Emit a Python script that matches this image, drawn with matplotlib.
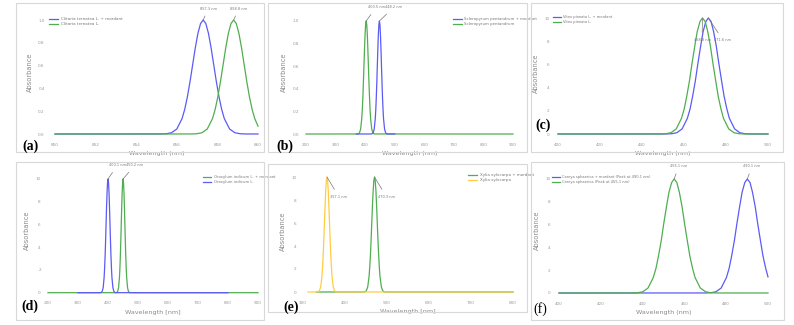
import matplotlib
matplotlib.use("Agg")
import matplotlib.pyplot as plt
from matplotlib.patches import Rectangle

W, H = 794, 325

BLUE = "#5b5bf5"
GREEN = "#4fae4f"
YELLOW = "#ffcc44"
GREY = "#8a8a8a"

# shape of one normalised absorbance peak
peak_shape = [0, 0.0003, 0.0022, 0.0111, 0.0439, 0.1353, 0.2163, 0.3247, 0.4578, 0.6065,
              0.7548, 0.8825, 0.969, 1.0, 0.969, 0.8825, 0.7548, 0.6065, 0.4578, 0.3247,
              0.2163, 0.1353, 0.0439, 0.0111, 0.0022, 0.0003, 0]
peak_shape10 = [0, 0.003, 0.022, 0.111, 0.439, 1.353, 2.163, 3.247, 4.578, 6.065,
                7.548, 8.825, 9.69, 10.0, 9.69, 8.825, 7.548, 6.065, 4.578, 3.247,
                2.163, 1.353, 0.439, 0.111, 0.022, 0.003, 0]

# (a) Clitoria ternatea
a_blue_x = [850, 855.22, 855.48, 855.74, 856.0, 856.26, 856.39, 856.52, 856.65, 856.78, 856.91,
            857.04, 857.17, 857.3, 857.43, 857.56, 857.69, 857.82, 857.95, 858.08, 858.21,
            858.34, 858.6, 858.86, 859.12, 859.38, 860]
a_blue_y = peak_shape
a_green_x = [850, 856.72, 856.98, 857.24, 857.5, 857.76, 857.89, 858.02, 858.15, 858.28, 858.41,
             858.54, 858.67, 858.8, 858.93, 859.06, 859.19, 859.32, 859.45, 859.58, 859.71,
             859.84, 860.0]
a_green_y = [0, 0.0003, 0.0022, 0.0111, 0.0439, 0.1353, 0.2163, 0.3247, 0.4578, 0.6065,
             0.7548, 0.8825, 0.969, 1.0, 0.969, 0.8825, 0.7548, 0.6065, 0.4578, 0.3247,
             0.2163, 0.1353, 0.069]

# (b) Scleropyrum pentandrum
b_blue_x = [370, 420.2, 423.7, 427.2, 430.7, 434.2, 436.0, 437.7, 439.5, 441.2, 443.0, 444.7,
            446.5, 448.2, 450.0, 451.7, 453.5, 455.2, 457.0, 458.7, 460.5, 462.2, 465.7,
            469.2, 472.7, 476.2, 500]
b_blue_y = peak_shape
b_green_x = [200, 373.5, 377.3, 381.0, 384.8, 388.5, 390.4, 392.3, 394.1, 396.0, 397.9, 399.8,
             401.6, 403.5, 405.4, 407.3, 409.1, 411.0, 412.9, 414.8, 416.6, 418.5, 422.3,
             426.0, 429.8, 433.5, 900]
b_green_y = peak_shape

# (c) Vitex pinnata
c_blue_x = [400, 451.6, 454.1, 456.6, 459.1, 461.6, 462.9, 464.1, 465.4, 466.6, 467.9, 469.1,
            470.4, 471.6, 472.9, 474.1, 475.4, 476.6, 477.9, 479.1, 480.4, 481.6, 484.1,
            486.6, 489.1, 491.6, 500]
c_blue_y = peak_shape10
c_green_x = [400, 448.8, 451.3, 453.8, 456.3, 458.8, 460.1, 461.3, 462.6, 463.8, 465.1, 466.3,
             467.6, 468.8, 470.1, 471.3, 472.6, 473.8, 475.1, 476.3, 477.6, 478.8, 481.3,
             483.8, 486.3, 488.8, 500]
c_green_y = peak_shape10

# (d) Oroxylum indicum
d_green_x = [200, 426.2, 429.2, 432.2, 435.2, 438.2, 439.7, 441.2, 442.7, 444.2, 445.7, 447.2,
             448.7, 450.2, 451.7, 453.2, 454.7, 456.2, 457.7, 459.2, 460.7, 462.2, 465.2,
             468.2, 471.2, 474.2, 900]
d_green_y = peak_shape10
d_blue_x = [300, 374.1, 377.4, 380.6, 383.9, 387.1, 388.7, 390.4, 392.0, 393.6, 395.2, 396.9,
            398.5, 400.1, 401.7, 403.4, 405.0, 406.6, 408.2, 409.9, 411.5, 413.1, 416.4,
            419.6, 422.9, 426.1, 800]
d_blue_y = peak_shape10

# (e) Xylia xylocarpa
e_green_x = [332, 444.3, 447.6, 450.8, 454.1, 457.3, 458.9, 460.6, 462.2, 463.8, 465.4, 467.1,
             468.7, 470.3, 471.9, 473.6, 475.2, 476.8, 478.4, 480.1, 481.7, 483.3, 486.6,
             489.8, 493.1, 496.3, 800]
e_green_y = peak_shape10
e_yellow_x = [312, 333.1, 336.1, 339.1, 342.1, 345.1, 346.6, 348.1, 349.6, 351.1, 352.6, 354.1,
              355.6, 357.1, 358.6, 360.1, 361.6, 363.1, 364.6, 366.1, 367.6, 369.1, 372.1,
              375.1, 378.1, 381.1, 800]
e_yellow_y = peak_shape10

# (f) Careya sphaerica
f_blue_x = [400, 470.1, 472.6, 475.1, 477.6, 480.1, 481.4, 482.6, 483.9, 485.1, 486.4, 487.6,
            488.9, 490.1, 491.4, 492.6, 493.9, 495.1, 496.4, 497.6, 498.9, 500.0]
f_blue_y = [0, 0.003, 0.022, 0.111, 0.439, 1.353, 2.163, 3.247, 4.578, 6.065, 7.548, 8.825,
            9.69, 10.0, 9.69, 8.825, 7.548, 6.065, 4.578, 3.247, 2.163, 1.41]
f_green_x = [400, 435.1, 437.6, 440.1, 442.6, 445.1, 446.4, 447.6, 448.9, 450.1, 451.4, 452.6,
             453.9, 455.1, 456.4, 457.6, 458.9, 460.1, 461.4, 462.6, 463.9, 465.1, 467.6,
             470.1, 472.6, 475.1, 500]
f_green_y = peak_shape10


def place(ax, xa, xb, pxa, pxb, ya, yb, pya, pyb, xlim, ylim):
    # map two known data points to pixel positions of the reference
    sx = (pxb - pxa) / (xb - xa)
    sy = (pya - pyb) / (yb - ya)
    left = pxa + (xlim[0] - xa) * sx
    right = pxa + (xlim[1] - xa) * sx
    bottom = pya + (ya - ylim[0]) * sy
    top = pya - (ylim[1] - ya) * sy
    ax.set_position([left / W, 1 - bottom / H, (right - left) / W, (bottom - top) / H])
    ax.set_xlim(xlim)
    ax.set_ylim(ylim)


def style(ax, xlabel, ylabel, xticks, yticks, yfmt="{:g}"):
    for s in ax.spines.values():
        s.set_visible(False)
    ax.set_xticks(xticks)
    ax.set_yticks(yticks)
    ax.set_yticklabels([yfmt.format(v) for v in yticks])
    ax.tick_params(length=0, labelsize=3.0, labelcolor="#999999", pad=3)
    ax.set_xlabel(xlabel, fontsize=4.6, color=GREY, labelpad=3)
    ax.set_ylabel(ylabel, fontsize=4.8, color=GREY, labelpad=4)


def legend(ax, x, y, size=3.0, order=None):
    h, l = ax.get_legend_handles_labels()
    if order:
        h = [h[i] for i in order]
        l = [l[i] for i in order]
    ax.legend(h, l, loc="upper left", bbox_to_anchor=(x / W, 1 - y / H),
              bbox_transform=fig.transFigure, fontsize=size, frameon=False,
              handlelength=2.2, handletextpad=0.7, labelspacing=0.3, borderaxespad=0,
              borderpad=0, labelcolor="#777777")


def note(ax, text, xy, xytext):
    ax.annotate(text, xy=xy, xytext=xytext, fontsize=2.5, color="#777777", ha="center", va="center",
                arrowprops=dict(arrowstyle="-", color="#777777", lw=0.5, shrinkA=2, shrinkB=0))


def frame(x0, y0, x1, y1):
    fig.add_artist(Rectangle((x0 / W, 1 - y1 / H), (x1 - x0) / W, (y1 - y0) / H,
                             transform=fig.transFigure, fill=False, ec="#d8d8d8", lw=0.8))


def tag(x, y, text, bold=True):
    fig.text(x / W, 1 - y / H, text, fontsize=10, family="Liberation Serif",
             fontweight="bold" if bold else "normal", ha="left", va="center")


fig = plt.figure(figsize=(W / 100, H / 100), dpi=100)
fig.patch.set_facecolor("white")

frame(16, 3, 264, 152)
frame(268, 3, 527, 152)
frame(531, 3, 783, 152)
frame(16, 162, 264, 320)
frame(268, 164, 527, 312)
frame(531, 162, 784, 320)

lw = 0.9

# (a)
ax = fig.add_axes([0, 0, 1, 1])
ax.plot(a_blue_x, a_blue_y, color=BLUE, lw=lw, label="Clitoria ternatea L. + mordant")
ax.plot(a_green_x, a_green_y, color=GREEN, lw=lw, label="Clitoria ternatea L.")
place(ax, 850, 860, 55, 258, 0, 1, 134, 20, (849.7, 860.3), (-0.04, 1.13))
style(ax, "Wavelength (nm)", "Absorbance", [850, 852, 854, 856, 858, 860],
      [0, 0.2, 0.4, 0.6, 0.8, 1.0], "{:.1f}")
legend(ax, 49, 17, 3.0)
note(ax, "857.3 nm", (857.3, 1.0), (857.55, 1.1))
note(ax, "858.8 nm", (858.8, 1.0), (859.05, 1.1))
tag(22, 146, "(a)")

# (b)
ax = fig.add_axes([0, 0, 1, 1])
ax.plot(b_green_x, b_green_y, color=GREEN, lw=lw, label="Scleropyrum pentandrum")
ax.plot(b_blue_x, b_blue_y, color=BLUE, lw=lw, label="Scleropyrum pentandrum + mordant")
place(ax, 200, 900, 306, 513, 0, 1, 134, 21, (190, 910), (-0.04, 1.13))
style(ax, "Wavelength (nm)", "Absorbance", [200, 300, 400, 500, 600, 700, 800, 900],
      [0, 0.2, 0.4, 0.6, 0.8, 1.0], "{:.1f}")
legend(ax, 453, 17, 2.8, order=[1, 0])
note(ax, "403.5 nm", (403.5, 1.0), (437, 1.12))
note(ax, "448.2 nm", (448.2, 1.0), (496, 1.12))
tag(276, 146, "(b)")

# (c)
ax = fig.add_axes([0, 0, 1, 1])
ax.plot(c_blue_x, c_blue_y, color=BLUE, lw=lw, label="Vitex pinnata L. + mordant")
ax.plot(c_green_x, c_green_y, color=GREEN, lw=lw, label="Vitex pinnata L.")
place(ax, 400, 500, 558, 768, 0, 10, 134, 18, (398, 502), (-0.4, 10.9))
style(ax, "Wavelength (nm)", "Absorbance", [400, 420, 440, 460, 480, 500], [0, 2, 4, 6, 8, 10])
legend(ax, 553, 15, 2.6)
note(ax, "468.8 nm", (468.8, 10.0), (468.6, 8.1))
note(ax, "471.6 nm", (471.6, 10.0), (478.5, 8.1))
tag(535, 125, "(c)")

# (d)
ax = fig.add_axes([0, 0, 1, 1])
ax.plot(d_green_x, d_green_y, color=GREEN, lw=lw, label="Oroxylum indicum L. + mordant")
ax.plot(d_blue_x, d_blue_y, color=BLUE, lw=lw, label="Oroxylum indicum L.")
place(ax, 200, 900, 48, 258, 0, 10, 292.7, 179, (190, 910), (-0.4, 11.4))
style(ax, "Wavelength [nm]", "Absorbance", [200, 300, 400, 500, 600, 700, 800, 900],
      [0, 2, 4, 6, 8, 10])
legend(ax, 203, 175, 2.7)
note(ax, "400.1 nm", (400.1, 10.0), (431, 11.2))
note(ax, "450.2 nm", (450.2, 10.0), (489, 11.2))
tag(21, 306, "(d)")

# (e)
ax = fig.add_axes([0, 0, 1, 1])
ax.plot(e_green_x, e_green_y, color=GREEN, lw=lw, label="Xylia xylocarpa + mordant")
ax.plot(e_yellow_x, e_yellow_y, color=YELLOW, lw=lw, label="Xylia xylocarpa")
place(ax, 300, 800, 303, 513, 0, 10, 292, 177, (295, 805), (-0.4, 11.0))
style(ax, "Wavelength [nm]", "Absorbance", [300, 400, 500, 600, 700, 800], [0, 2, 4, 6, 8, 10])
legend(ax, 468, 173, 2.9)
note(ax, "357.1 nm", (357.1, 10.0), (385, 8.3))
note(ax, "470.3 nm", (470.3, 10.0), (498, 8.3))
tag(283, 307, "(e)")

# (f)
ax = fig.add_axes([0, 0, 1, 1])
ax.plot(f_blue_x, f_blue_y, color=BLUE, lw=lw, label="Careya sphaerica + mordant (Peak at 490.1 nm)")
ax.plot(f_green_x, f_green_y, color=GREEN, lw=lw, label="Careya sphaerica (Peak at 455.1 nm)")
place(ax, 400, 500, 559, 768, 0, 10, 293, 179, (398, 502), (-0.4, 11.4))
style(ax, "Wavelength (nm)", "Absorbance", [400, 420, 440, 460, 480, 500], [0, 2, 4, 6, 8, 10])
legend(ax, 552, 175, 2.6)
note(ax, "455.1 nm", (455.1, 10.0), (457.3, 11.1))
note(ax, "490.1 nm", (490.1, 10.0), (492.3, 11.1))
tag(533, 309, "(f)", bold=False)

fig.savefig("out.png", dpi=100, facecolor="white")
